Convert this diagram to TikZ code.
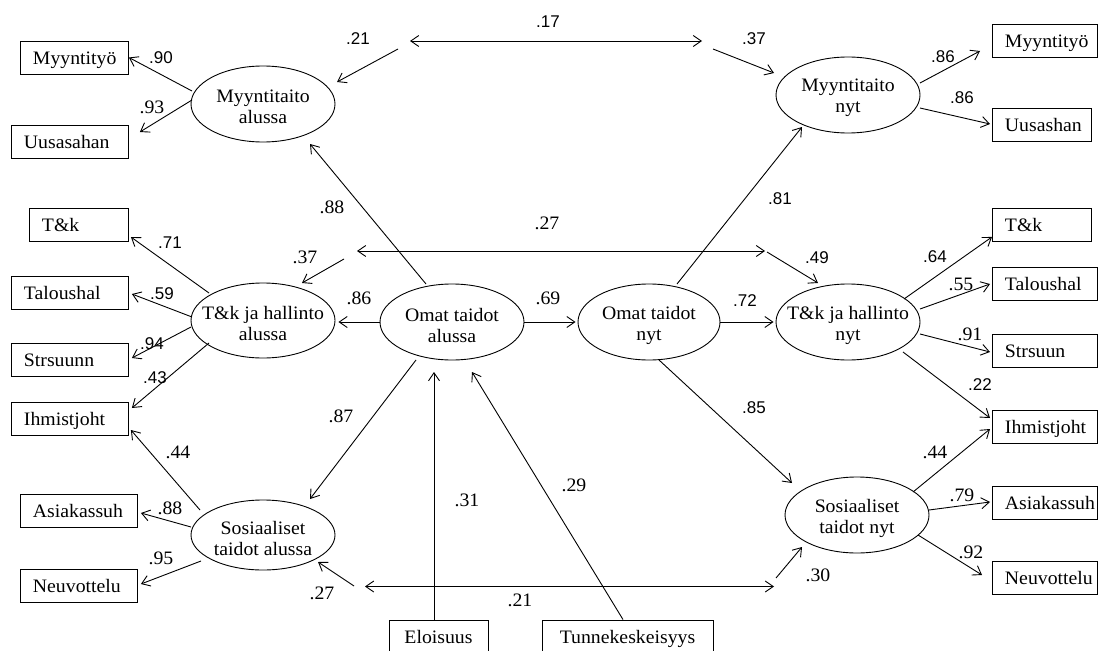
\documentclass[tikz,border=0pt]{standalone}
\usepackage{fontspec}
\setmainfont{Liberation Serif}[FakeStretch=1.04]
\newfontfamily\numsans{Liberation Sans}
\usetikzlibrary{shapes.geometric,arrows.meta,calc}
\newcommand\txtsize{\fontsize{19}{21}\selectfont}
\newcommand\numsize{\numsans\fontsize{17}{19}\selectfont}

\tikzset{
  latent/.style={ellipse, draw, minimum width=144pt, minimum height=76pt, inner sep=0pt},
  lattext/.style={font=\txtsize, align=center, inner sep=0pt, yshift=-3pt},
  obs/.style 2 args={draw, anchor=west, minimum width=#1, minimum height=33pt, inner sep=0pt,
    label={[font=\txtsize, anchor=west, xshift=12.5pt, inner sep=0pt, text height=13.5pt, text depth=0pt]west:#2}},
  obsc/.style={draw, minimum height=33pt, inner sep=0pt, font=\txtsize, text height=13.5pt, text depth=0pt},
  load/.style={->},
  cov/.style={<->},
  ns/.style={font=\numsize, inner sep=0pt},
  nr/.style={font=\txtsize, inner sep=0pt},
}

\begin{document}
\begin{tikzpicture}[x=1pt, y=-1pt, line width=0.9pt,
  >={Straight Barb[length=8pt,width=11pt]}]
\clip (0,0) rectangle (1099,650);
\fill[white] (0,0) rectangle (1099,650);

% latent variables
\node[latent, label={[lattext]center:{Myyntitaito\\alussa}}] (mA) at (263,104) {};
\node[latent, minimum height=75pt, label={[lattext]center:{T\&k ja hallinto\\alussa}}] (tA) at (263,320.5) {};
\node[latent, minimum height=70pt, label={[lattext]center:{Sosiaaliset\\taidot alussa}}] (sA) at (263,535) {};
\node[latent, label={[lattext]center:{Omat taidot\\alussa}}] (oA) at (452,322) {};
\node[latent, minimum width=142pt, label={[lattext]center:{Omat taidot\\nyt}}] (oN) at (649,322) {};
\node[latent, label={[lattext]center:{Myyntitaito\\nyt}}] (mN) at (848,95) {};
\node[latent, label={[lattext]center:{T\&k ja hallinto\\nyt}}] (tN) at (848,322) {};
\node[latent, label={[lattext]center:{Sosiaaliset\\taidot nyt}}] (sN) at (857,515) {};

% indicators, left
\node[obs={108pt}{Myyntityö}] (myL) at (20,57.5) {};
\node[obs={117pt}{Uusasahan}] (uuL) at (11,141.5) {};
\node[obs={99pt}{T\&k}] (tkL) at (29,225) {};
\node[obs={117pt}{Taloushal}] (taL) at (11,292.5) {};
\node[obs={117pt}{Strsuunn}] (stL) at (11,359.5) {};
\node[obs={117pt}{Ihmistjoht}] (ihL) at (11,418.5) {};
\node[obs={117pt}{Asiakassuh}] (asL) at (20,510.5) {};
\node[obs={117pt}{Neuvottelu}] (neL) at (20,586) {};

% indicators, right
\node[obs={105pt}{Myyntityö}] (myR) at (992,40.5) {};
\node[obs={99pt}{Uusashan}] (uuR) at (992,124.5) {};
\node[obs={99pt}{T\&k}] (tkR) at (992,225) {};
\node[obs={105pt}{Taloushal}] (taR) at (992,284) {};
\node[obs={105pt}{Strsuun}] (stR) at (992,351) {};
\node[obs={105pt}{Ihmistjoht}] (ihR) at (992,426.5) {};
\node[obs={105pt}{Asiakassuh}] (asR) at (992,502.5) {};
\node[obs={105pt}{Neuvottelu}] (neR) at (992,577.5) {};

% predictors
\node[obsc, minimum width=99pt] (elo) at (438.5,636.5) {Eloisuus};
\node[obsc, minimum width=171pt] (tun) at (627.5,636.5) {Tunnekeskeisyys};

% loadings, left
\draw[load] ($(mA)+(-71,-13)$) -- (myL.east);
\draw[load] ($(mA)+(-71,-4)$) -- ($(uuL.east)+(11,-9.5)$);
\draw[load] ($(tA)+(-54,-27.5)$) -- ($(tkL.east)+(2,12)$);
\draw[load] ($(tA)+(-71,-3.5)$) -- ($(taL.east)+(3,1.5)$);
\draw[load] ($(tA)+(-72,6.5)$) -- ($(stL.east)+(3,-1.5)$);
\draw[load] ($(tA)+(-54,22.5)$) -- ($(ihL.east)+(3,-10.5)$);
\draw[load] ($(sA)+(-63,-25)$) -- ($(ihL.east)+(2,11.5)$);
\draw[load] ($(sA)+(-72,-8)$) -- ($(asL.east)+(3,2.5)$);
\draw[load] ($(sA)+(-62,26)$) -- ($(neL.east)+(3,-2)$);

% structural paths
\draw[load] ($(oA)+(-26,-38)$) -- ($(mA)+(47,40)$);
\draw[load] (oA.west) -- ($(oA.west -| tA.east)+(3,0)$);
\draw[load] ($(oA)+(-36,38)$) -- ($(sA)+(47,-36)$);
\draw[load] (oA.east) -- ($(oN.west)+(-2,0)$);
\draw[load] ($(elo.north)+(-4.5,0)$) -- ($(oA)+(-18,50)$);
\draw[load] ($(tun.north)+(-4.5,0)$) -- ($(oA)+(20,50)$);
\draw[load] ($(oN)+(28,-38)$) -- ($(mN)+(-46,32)$);
\draw[load] (oN.east) -- ($(tN.west)+(-2,0)$);
\draw[load] ($(oN)+(10,38)$) -- ($(sN)+(-65,-32)$);

% loadings, right
\draw[load] ($(mN)+(72,-12)$) -- ($(myR.west)+(-12,10.5)$);
\draw[load] ($(mN)+(72,13)$) -- ($(uuR.west)+(-2,-0.5)$);
\draw[load] ($(tN)+(56,-23)$) -- ($(tkR.south west)+(0,-5)$);
\draw[load] ($(tN)+(72,-13)$) -- ($(taR.west)+(-2,0)$);
\draw[load] ($(tN)+(72,12)$) -- ($(stR.west)+(-2,1)$);
\draw[load] ($(tN)+(55,30)$) -- ($(ihR.west)+(-2,-8.5)$);
\draw[load] ($(sN)+(56,-23)$) -- ($(ihR.west)+(-2,2.5)$);
\draw[load] ($(sN)+(72,-5)$) -- ($(asR.west)+(-2,-0.5)$);
\draw[load] ($(sN)+(61,20)$) -- ($(neR.west)+(-10,-2.5)$);

% residual covariances
\coordinate (t1) at (410,41); \coordinate (t2) at (702,41);
\coordinate (t3) at (398,49); \coordinate (t4) at (713,49);
\draw[cov] (t1) -- (t2);
\draw[load] (t3) -- ($(mA)+(74,-22)$);
\draw[load] (t4) -- ($(mN)+(-74,-22)$);

\coordinate (m1) at (357,251); \coordinate (m2) at (765,251);
\coordinate (m3) at (344,259); \coordinate (m4) at (767,252);
\draw[cov] (m1) -- (m2);
\draw[load] (m3) -- ($(tA)+(39,-37.5)$);
\draw[load] (m4) -- ($(tN)+(-30,-39)$);

\coordinate (b1) at (365,586.5); \coordinate (b2) at (774,586.5);
\coordinate (b3) at (354,586); \coordinate (b4) at (776,578);
\draw[cov] (b1) -- (b2);
\draw[load] (b3) -- ($(sA)+(55,27)$);
\draw[load] (b4) -- ($(sN)+(-55,32)$);

% coefficients
\node[ns] (l01) at (161,58) {.90};
\node[ns] (l02) at (170,243) {.71};
\node[ns] (l03) at (162,294) {.59};
\node[ns] (l04) at (152,344) {.94};
\node[ns] (l05) at (155,378) {.43};
\node[ns] (l06) at (358,39) {.21};
\node[ns] (l07) at (548,22) {.17};
\node[ns] (l08) at (754,39) {.37};
\node[ns] (l09) at (780,199) {.81};
\node[ns] (l10) at (817,258) {.49};
\node[ns] (l11) at (745,301) {.72};
\node[ns] (l12) at (754,408) {.85};
\node[ns] (l13) at (943,57) {.86};
\node[ns] (l14) at (962,98) {.86};
\node[ns] (l15) at (935,257) {.64};
\node[ns] (l16) at (980,385) {.22};

\node[nr] (r01) at (152,107) {.93};
\node[nr] (r02) at (332,207) {.88};
\node[nr] (r03) at (305,257) {.37};
\node[nr] (r04) at (359,298) {.86};
\node[nr] (r05) at (341,416) {.87};
\node[nr] (r06) at (178,452) {.44};
\node[nr] (r07) at (170,508) {.88};
\node[nr] (r08) at (161,558) {.95};
\node[nr] (r09) at (322,593) {.27};
\node[nr] (r10) at (520,600) {.21};
\node[nr] (r11) at (467,500) {.31};
\node[nr] (r12) at (574,485) {.29};
\node[nr] (r13) at (548,298) {.69};
\node[nr] (r14) at (547,223) {.27};
\node[nr] (r15) at (961,284) {.55};
\node[nr] (r16) at (970,334) {.91};
\node[nr] (r17) at (935,452) {.44};
\node[nr] (r18) at (962,495) {.79};
\node[nr] (r19) at (971,552) {.92};
\node[nr] (r20) at (818,575) {.30};
\end{tikzpicture}
\end{document}
